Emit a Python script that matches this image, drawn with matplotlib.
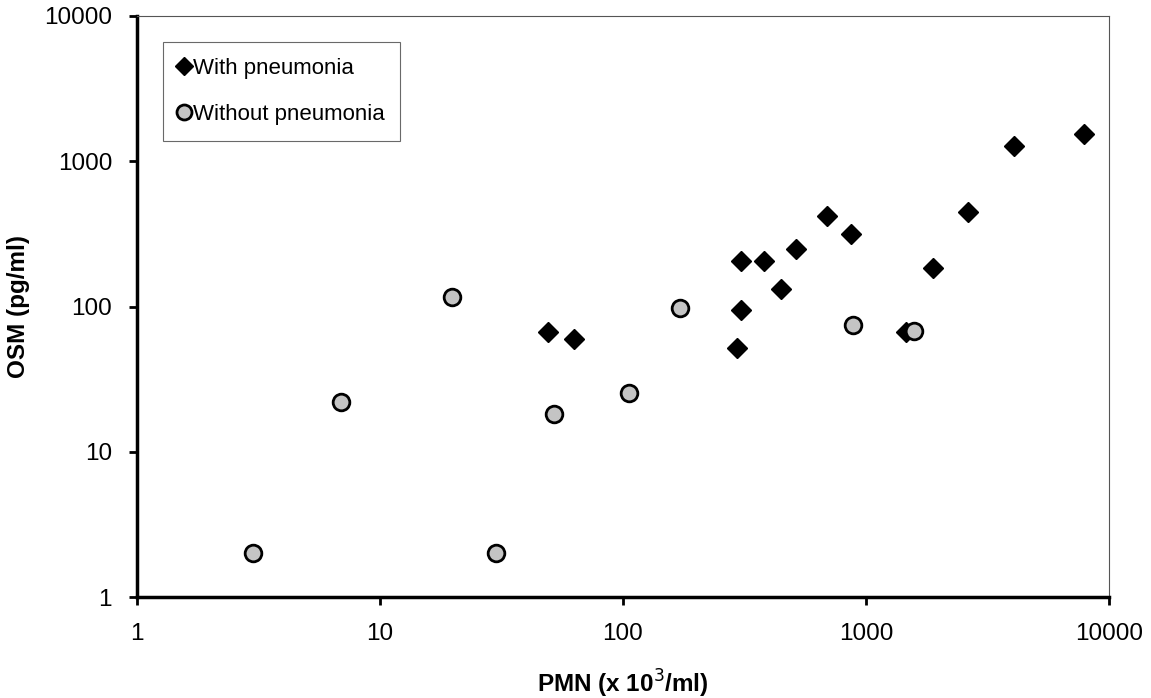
import numpy as np
import matplotlib.pyplot as plt
from matplotlib.ticker import FixedLocator, NullLocator, FixedFormatter

# with pneumonia (diamonds)
pmn_with = [49, 63, 294, 305, 305, 379, 445, 514, 689, 865, 1459, 1884, 2625, 4064, 7890]
osm_with = [67, 60, 52, 94, 207, 207, 133, 247, 418, 314, 67, 183, 445, 1269, 1535]

# without pneumonia (grey circles)
pmn_without = [3.0, 6.9, 19.7, 30.1, 52, 106, 172, 882, 1574]
osm_without = [2, 22, 117, 2, 18.3, 25.5, 98, 74, 68]

ticks = [1, 10, 100, 1000, 10000]
tick_labels = ['1', '10', '100', '1000', '10000']

plt.rcParams['font.family'] = ['Liberation Sans', 'DejaVu Sans']

fig = plt.figure(figsize=(11.51, 6.98), dpi=100)
ax = fig.add_axes([137 / 1151, 1 - 597 / 698, (1109 - 137) / 1151, (597 - 16) / 698])

ax.plot(pmn_with, osm_with, linestyle='none', marker='D', ms=10,
        color='black', label='With pneumonia')
ax.plot(pmn_without, osm_without, linestyle='none', marker='o', ms=12,
        markerfacecolor='#c4c4c4', markeredgecolor='black', markeredgewidth=2,
        label='Without pneumonia')

ax.set_xscale('log')
ax.set_yscale('log')
ax.set_xlim(1, 10000)
ax.set_ylim(1, 10000)
for axis in (ax.xaxis, ax.yaxis):
    axis.set_major_locator(FixedLocator(ticks))
    axis.set_major_formatter(FixedFormatter(tick_labels))
    axis.set_minor_locator(NullLocator())

ax.tick_params(axis='both', direction='out', length=6, width=2, labelsize=17.5)
ax.tick_params(axis='x', pad=13)
ax.tick_params(axis='y', pad=12)

ax.spines['left'].set_linewidth(2.5)
ax.spines['bottom'].set_linewidth(2.5)
ax.spines['top'].set_linewidth(0.8)
ax.spines['right'].set_linewidth(0.8)
ax.spines['top'].set_color('#555555')
ax.spines['right'].set_color('#555555')

ax.set_xlabel('PMN (x 10$^3$/ml)', fontsize=17.5, fontweight='bold', labelpad=16)
ax.set_ylabel('OSM (pg/ml)', fontsize=17.5, fontweight='bold', labelpad=10)

leg = ax.legend(loc='upper left', bbox_to_anchor=(26 / 972, 1 - 26 / 581),
                fontsize=16, frameon=True, fancybox=False, edgecolor='#444444',
                handletextpad=0.15, handlelength=0.5, borderpad=0.7,
                labelspacing=1.15, borderaxespad=0, markerscale=0.9)
leg.get_frame().set_linewidth(0.8)

fig.savefig('out.png', dpi=100)
